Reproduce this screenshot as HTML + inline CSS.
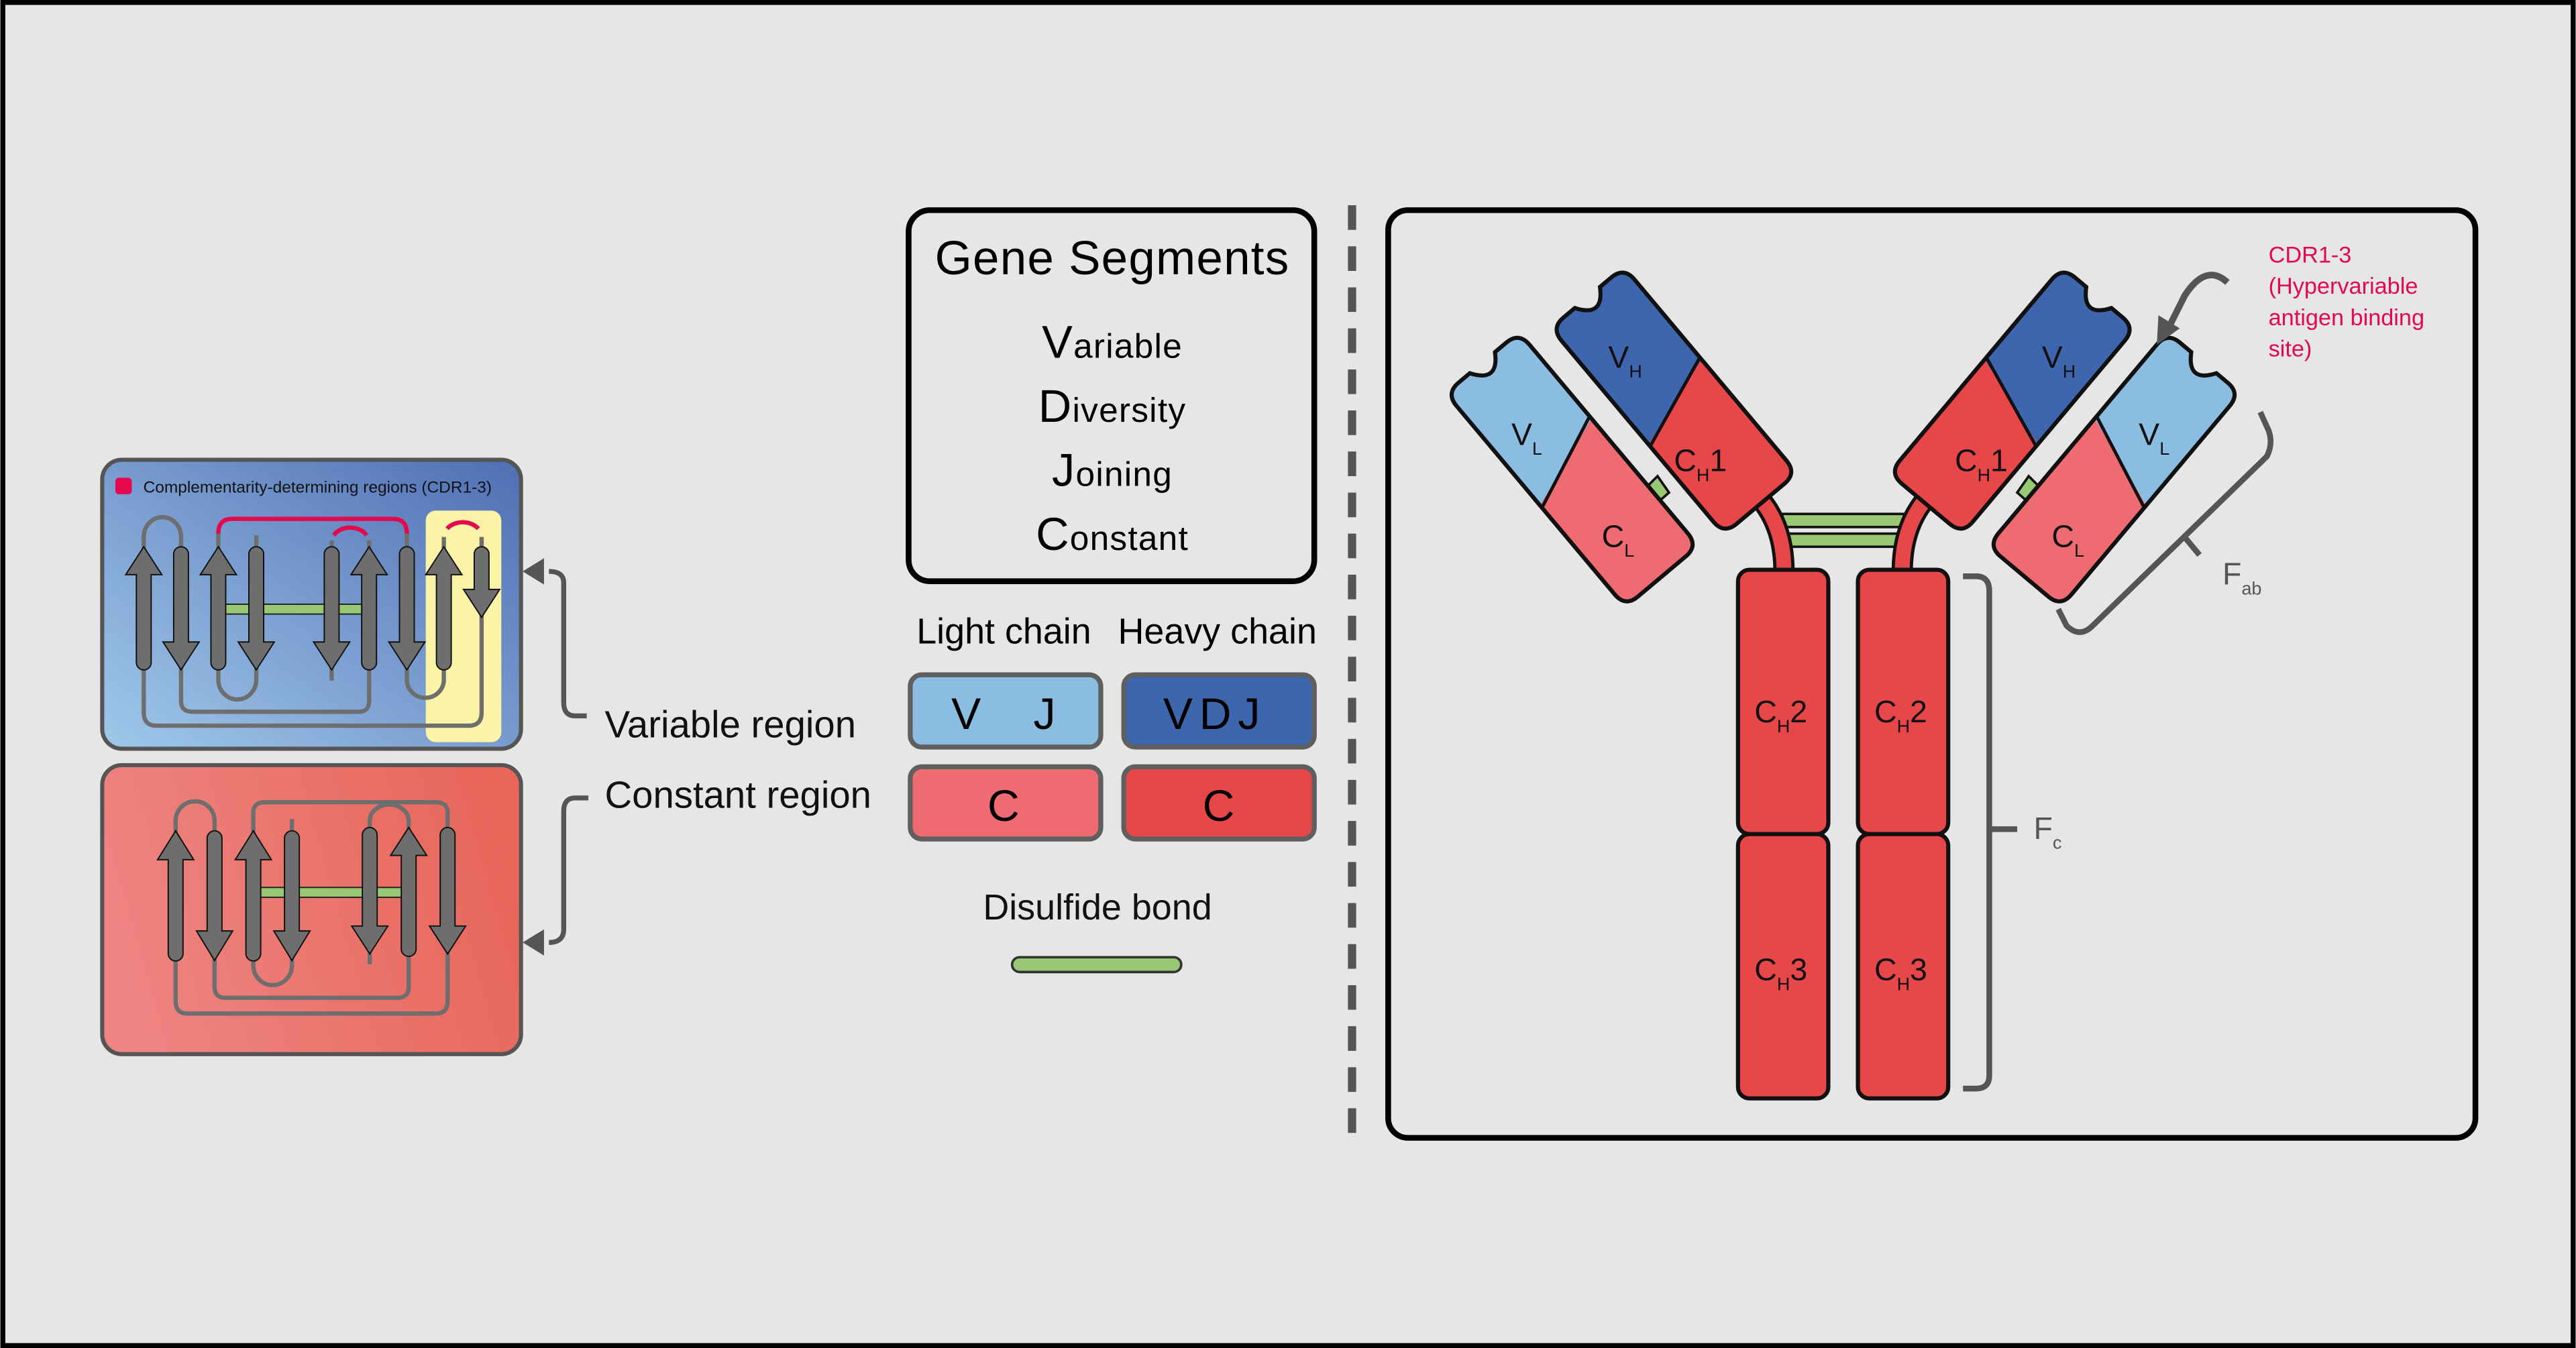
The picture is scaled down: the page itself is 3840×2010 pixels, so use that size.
<!DOCTYPE html>
<html><head><meta charset="utf-8"><style>
html,body{margin:0;padding:0;background:#e6e6e6;}
svg{display:block;}
text{font-family:"Liberation Sans",sans-serif;}
</style></head><body>
<svg width="3840" height="2010" viewBox="0 0 1568 821" xmlns="http://www.w3.org/2000/svg">
<defs>
<linearGradient id="gb" x1="0" y1="1" x2="1" y2="0"><stop offset="0" stop-color="#a0c8ea"/><stop offset="1" stop-color="#4f6fb3"/></linearGradient>
<linearGradient id="gr" x1="0" y1="0.6" x2="1" y2="0.4"><stop offset="0" stop-color="#ee8583"/><stop offset="1" stop-color="#e8665a"/></linearGradient>
<path id="armH" d="M-29,-72 Q-29,-82 -19,-82 L-10,-82 Q-5,-74 0,-74 Q5,-74 10,-82 L19,-82 Q29,-82 29,-72 L29,72 Q29,82 19,82 L-19,82 Q-29,82 -29,72 Z"/>
<path id="armL" d="M-29,-75 Q-29,-85 -19,-85 L-10,-85 Q-5,-77 0,-77 Q5,-77 10,-85 L19,-85 Q29,-85 29,-75 L29,75 Q29,85 19,85 L-19,85 Q-29,85 -29,75 Z"/>
<clipPath id="cH"><use href="#armH"/></clipPath>
<clipPath id="cL"><use href="#armL"/></clipPath>
<g id="fabL">
 <polygon points="1001,298 1009,290 1016,300 1008,307" fill="#98c874" stroke="#111" stroke-width="1.5"/>
 <g transform="translate(957,286) rotate(-40)">
  <use href="#armL" fill="#ee6b72"/>
  <polygon clip-path="url(#cL)" points="-40,-95 40,-95 40,-20 -40,8" fill="#8bbde3"/>
  <line x1="-29" y1="6" x2="29" y2="-18" stroke="#111" stroke-width="2"/>
  <use href="#armL" fill="none" stroke="#111" stroke-width="2.5"/>
 </g>
 <path d="M1068,300 Q1086,318 1086,348" fill="none" stroke="#111" stroke-width="13"/>
 <path d="M1068,300 Q1086,318 1086,348" fill="none" stroke="#e8474a" stroke-width="9"/>
 <g transform="translate(1019,244) rotate(-40)">
  <use href="#armH" fill="#e8474a"/>
  <polygon clip-path="url(#cH)" points="-40,-95 40,-95 40,-12 -40,14" fill="#3d66ae"/>
  <line x1="-29" y1="12" x2="29" y2="-10" stroke="#111" stroke-width="2"/>
  <use href="#armH" fill="none" stroke="#111" stroke-width="2.5"/>
 </g>
</g>
</defs>
<rect x="1.5" y="1.5" width="1565" height="818" fill="#e6e6e6" stroke="#000" stroke-width="3"/>

<!-- Blue panel -->
<rect x="62" y="280" width="255" height="176" rx="12" fill="url(#gb)" stroke="#555" stroke-width="2.5"/>
<rect x="259" y="311" width="46" height="141" rx="6" fill="#fbf3a6"/>
<rect x="70" y="291" width="10" height="10" rx="2" fill="#e5084e"/>
<text x="87" y="300" font-size="10" fill="#111">Complementarity-determining regions (CDR1-3)</text>
<g fill="none" stroke="#6e6e6e" stroke-width="2.6">
<path d="M87.3,335 L87.3,327 A11.35,12 0 0 1 110,327 L110,335"/>
<path d="M132.7,335 L132.7,324 M247.5,335 L247.5,324"/>
<path d="M155.8,326 L155.8,334"/>
<path d="M201.7,334 L201.7,329 M224.5,334 L224.5,329"/>
<path d="M270,334 L270,327 M293,334 L293,327"/>
<path d="M132.7,405 L132.7,414 A11.55,12 0 0 0 155.8,414 L155.8,405"/>
<path d="M247.5,405 L247.5,414 A11.25,11 0 0 0 270,414 L270,405"/>
<path d="M110,405 L110,427 Q110,433.5 117,433.5 L218,433.5 Q224.5,433.5 224.5,427 L224.5,405"/>
<path d="M87.3,405 L87.3,434 Q87.3,442 95,442 L285,442 Q293,442 293,434 L293,375"/>
<path d="M201.7,405 L201.7,414.5"/>
</g>
<g fill="none" stroke="#e5084e" stroke-width="2.6">
<path d="M132.7,325 Q132.7,316 141,316 L239,316 Q247.5,316 247.5,325"/>
<path d="M203,326 A11.4,9 0 0 1 223,326"/>
<path d="M272,322 A11.5,9 0 0 1 291,322"/>
</g>
<rect x="135" y="368" width="88" height="6" fill="#98c874" stroke="#222" stroke-width="0.8"/>
<g fill="#6e6e6e" stroke="#111" stroke-width="0.8">
<path d="M87.3,333 L98.3,350 L91.8,350 L91.8,403.5 A4.5,4.5 0 0 1 82.8,403.5 L82.8,350 L76.3,350Z"/>
<path d="M110,408 L121,391 L114.5,391 L114.5,337.5 A4.5,4.5 0 0 0 105.5,337.5 L105.5,391 L99,391Z"/>
<path d="M132.7,333 L143.7,350 L137.2,350 L137.2,403.5 A4.5,4.5 0 0 1 128.2,403.5 L128.2,350 L121.7,350Z"/>
<path d="M155.8,408 L166.8,391 L160.3,391 L160.3,337.5 A4.5,4.5 0 0 0 151.3,337.5 L151.3,391 L144.8,391Z"/>
<path d="M201.7,408 L212.7,391 L206.2,391 L206.2,337.5 A4.5,4.5 0 0 0 197.2,337.5 L197.2,391 L190.7,391Z"/>
<path d="M224.5,333 L235.5,350 L229,350 L229,403.5 A4.5,4.5 0 0 1 220,403.5 L220,350 L213.5,350Z"/>
<path d="M247.5,408 L258.5,391 L252,391 L252,337.5 A4.5,4.5 0 0 0 243,337.5 L243,391 L236.5,391Z"/>
<path d="M270,333 L281,350 L274.5,350 L274.5,403.5 A4.5,4.5 0 0 1 265.5,403.5 L265.5,350 L259,350Z"/>
<path d="M293,376 L304,359 L297.5,359 L297.5,337.5 A4.5,4.5 0 0 0 288.5,337.5 L288.5,359 L282,359Z"/>
</g>

<!-- Red panel -->
<rect x="62" y="466" width="255" height="176" rx="12" fill="url(#gr)" stroke="#555" stroke-width="2.5"/>
<g fill="none" stroke="#6e6e6e" stroke-width="2.6">
<path d="M106.7,508 L106.7,500 A11.85,12 0 0 1 130.4,500 L130.4,508"/>
<path d="M154,508 L154,495 Q154,488.6 161,488.6 L265,488.6 Q272.3,488.6 272.3,495 L272.3,508"/>
<path d="M177.5,498.8 L177.5,507"/>
<path d="M224.9,507 L224.9,500 A11.85,10 0 0 1 248.6,500 L248.6,507"/>
<path d="M154,583 L154,588 A11.75,12 0 0 0 177.5,588 L177.5,583"/>
<path d="M130.4,583 L130.4,601 Q130.4,607.7 137,607.7 L242,607.7 Q248.6,607.7 248.6,601 L248.6,580"/>
<path d="M106.7,583 L106.7,610 Q106.7,617.3 114,617.3 L265,617.3 Q272.3,617.3 272.3,610 L272.3,580"/>
<path d="M224.9,580 L224.9,587.3"/>
</g>
<rect x="156" y="540.5" width="90" height="6" fill="#98c874" stroke="#222" stroke-width="0.8"/>
<g fill="#6e6e6e" stroke="#111" stroke-width="0.8">
<path d="M106.7,506 L117.7,523.6 L111.2,523.6 L111.2,580.8 A4.5,4.5 0 0 1 102.2,580.8 L102.2,523.6 L95.7,523.6Z"/>
<path d="M130.4,585 L141.4,567 L134.9,567 L134.9,510.5 A4.5,4.5 0 0 0 125.9,510.5 L125.9,567 L119.4,567Z"/>
<path d="M154,506 L165,523.6 L158.5,523.6 L158.5,580.8 A4.5,4.5 0 0 1 149.5,580.8 L149.5,523.6 L143,523.6Z"/>
<path d="M177.5,585 L188.5,567 L182,567 L182,510.5 A4.5,4.5 0 0 0 173,510.5 L173,567 L166.5,567Z"/>
<path d="M224.9,581 L235.9,564 L229.4,564 L229.4,508.5 A4.5,4.5 0 0 0 220.4,508.5 L220.4,564 L213.9,564Z"/>
<path d="M248.6,504 L259.6,521 L253.1,521 L253.1,578 A4.5,4.5 0 0 1 244.1,578 L244.1,521 L237.6,521Z"/>
<path d="M272.3,581 L283.3,564 L276.8,564 L276.8,508.5 A4.5,4.5 0 0 0 267.8,508.5 L267.8,564 L261.3,564Z"/>
</g>

<!-- region arrows -->
<path d="M357,436 L350,436 Q343,436 343,428 L343,355 Q343,348 334,348" fill="none" stroke="#555" stroke-width="3"/>
<polygon points="318,348 331,340 331,356" fill="#555"/>
<path d="M358,486 L350,486 Q343,486 343,494 L343,566 Q343,574 334,574" fill="none" stroke="#555" stroke-width="3"/>
<polygon points="318,574 331,566 331,582" fill="#555"/>
<text x="368" y="449" font-size="23" fill="#111">Variable region</text>
<text x="368" y="492" font-size="23" fill="#111">Constant region</text>

<!-- Gene segments -->
<rect x="553" y="128" width="247" height="226" rx="13" fill="none" stroke="#000" stroke-width="3.5"/>
<text x="677" y="167" font-size="29" text-anchor="middle" fill="#000" letter-spacing="0.5">Gene Segments</text>
<g font-size="21" text-anchor="middle" fill="#000" letter-spacing="0.5">
<text x="677" y="218"><tspan font-size="28">V</tspan>ariable</text>
<text x="677" y="257"><tspan font-size="28">D</tspan>iversity</text>
<text x="677" y="296"><tspan font-size="28">J</tspan>oining</text>
<text x="677" y="335"><tspan font-size="28">C</tspan>onstant</text>
</g>
<text x="611" y="392" font-size="22" text-anchor="middle" fill="#000">Light chain</text>
<text x="741" y="392" font-size="22" text-anchor="middle" fill="#000">Heavy chain</text>
<rect x="554" y="411" width="116" height="44" rx="7" fill="#8bbde3" stroke="#5f5f5f" stroke-width="3"/>
<rect x="684" y="411" width="116" height="44" rx="7" fill="#3d66ae" stroke="#5f5f5f" stroke-width="3"/>
<rect x="554" y="467" width="116" height="44" rx="7" fill="#ee6b72" stroke="#5f5f5f" stroke-width="3"/>
<rect x="684" y="467" width="116" height="44" rx="7" fill="#e8474a" stroke="#5f5f5f" stroke-width="3"/>
<g font-size="27" fill="#000">
<text x="579" y="444">V</text><text x="629" y="444">J</text>
<text x="708" y="444" letter-spacing="4">VDJ</text>
<text x="601" y="500">C</text><text x="732" y="500">C</text>
</g>
<text x="668" y="560" font-size="22" text-anchor="middle" fill="#111">Disulfide bond</text>
<rect x="616" y="583" width="103" height="9" rx="4.5" fill="#98c874" stroke="#333" stroke-width="1.5"/>

<line x1="823" y1="125" x2="823" y2="692" stroke="#555" stroke-width="5" stroke-dasharray="15,10"/>

<!-- Antibody panel -->
<rect x="845" y="128" width="662" height="565" rx="12" fill="none" stroke="#000" stroke-width="3.5"/>
<rect x="1085" y="313" width="74" height="8" fill="#98c874" stroke="#111" stroke-width="1.5"/>
<rect x="1085" y="325" width="74" height="8" fill="#98c874" stroke="#111" stroke-width="1.5"/>
<use href="#fabL"/>
<use href="#fabL" transform="translate(2244,0) scale(-1,1)"/>
<g fill="#e8474a" stroke="#111" stroke-width="2.5">
<rect x="1058" y="347" width="55" height="161" rx="7"/>
<rect x="1058" y="508" width="55" height="161" rx="7"/>
<rect x="1131" y="347" width="55" height="161" rx="7"/>
<rect x="1131" y="508" width="55" height="161" rx="7"/>
</g>
<g fill="#111" font-size="19">
<text x="979" y="224">V<tspan font-size="11" dy="6">H</tspan></text>
<text x="1243" y="224">V<tspan font-size="11" dy="6">H</tspan></text>
<text x="1019" y="287">C<tspan font-size="11" dy="6">H</tspan><tspan dy="-6">1</tspan></text>
<text x="1190" y="287">C<tspan font-size="11" dy="6">H</tspan><tspan dy="-6">1</tspan></text>
<text x="920" y="271">V<tspan font-size="11" dy="6">L</tspan></text>
<text x="1302" y="271">V<tspan font-size="11" dy="6">L</tspan></text>
<text x="975" y="333">C<tspan font-size="11" dy="6">L</tspan></text>
<text x="1249" y="333">C<tspan font-size="11" dy="6">L</tspan></text>
<text x="1068" y="440">C<tspan font-size="11" dy="6">H</tspan><tspan dy="-6">2</tspan></text>
<text x="1141" y="440">C<tspan font-size="11" dy="6">H</tspan><tspan dy="-6">2</tspan></text>
<text x="1068" y="597">C<tspan font-size="11" dy="6">H</tspan><tspan dy="-6">3</tspan></text>
<text x="1141" y="597">C<tspan font-size="11" dy="6">H</tspan><tspan dy="-6">3</tspan></text>
</g>
<!-- brackets -->
<g fill="none" stroke="#555" stroke-width="3.5">
<path d="M1195,351 L1203,351 Q1211,351 1211,360 L1211,655 Q1211,663 1203,663 L1195,663"/>
<path d="M1211,505 L1228,505"/>
<path d="M1376,251 L1381,262 Q1384,270 1380,278 L1274,381 Q1266,389 1258,381 L1253,371"/>
<path d="M1329,326 L1339,338"/>
</g>
<text x="1238" y="511" font-size="19" fill="#555">F<tspan font-size="11" dy="6">c</tspan></text>
<text x="1353" y="356" font-size="19" fill="#555">F<tspan font-size="11" dy="6">ab</tspan></text>
<!-- CDR arrow -->
<path d="M1356,172 Q1343,160 1330,180 L1320,200" fill="none" stroke="#555" stroke-width="4"/>
<polygon points="1313,210 1314,192 1327,200" fill="#555"/>
<g font-size="14" fill="#e5084e">
<text x="1381" y="160">CDR1-3</text>
<text x="1381" y="179">(Hypervariable</text>
<text x="1381" y="198">antigen binding</text>
<text x="1381" y="217">site)</text>
</g>
</svg>
</body></html>
